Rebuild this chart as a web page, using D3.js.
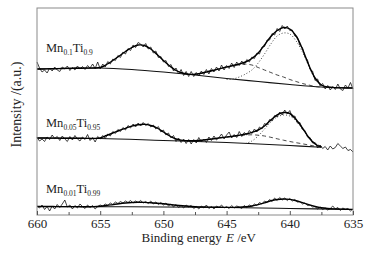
<!DOCTYPE html>
<html>
<head>
<meta charset="utf-8">
<script src="https://cdn.jsdelivr.net/npm/d3@7"></script>
<style>
  body { margin: 0; background: #fff; }
  svg text, svg tspan { font-family: "Liberation Serif", "Times New Roman", Times, "DejaVu Serif", serif !important; }
</style>
</head>
<body>
<div id="chart"></div>
<script>
// x grids (binding energy, eV)
const energyRaw = d3.range(126).map(i => +(660 - i * 0.2).toFixed(1));
const energyFit = d3.range(51).map(i => 660 - i * 0.5);
const xTicks = [660, 655, 650, 645, 640, 635];

// sample names: [element, sub, element, sub]
const sampleNames = [
    ["Mn", "0.1", "Ti", "0.9"],
    ["Mn", "0.05", "Ti", "0.95"],
    ["Mn", "0.01", "Ti", "0.99"]
];

// ---- Mn0.1Ti0.9 (top) ----
const topRaw = [153, 147, 143, 145, 142, 147, 144, 148, 145, 143.5, 148, 146, 149, 144.5, 147.5, 145, 149, 146, 148.5, 145.5,
    149.5, 147, 151, 146.5, 153, 146, 151, 148, 153.5, 151, 156, 154.5, 159.5, 157.5, 163, 161, 166.5, 164.5, 170, 167.5,
    172.5, 171, 168, 171.5, 166, 168, 162, 164, 157.5, 158.5, 153, 154.5, 148.5, 150.5, 144, 147, 141, 145.5, 139.5, 143.5,
    138.5, 143.5, 138.5, 142.5, 139, 144, 140.5, 145.5, 141, 146.5, 143, 148, 144, 150, 145, 149.5, 146.5, 152, 147.5, 153,
    149.5, 154, 150.5, 155.5, 153, 158, 156.5, 162, 161, 168, 168.5, 175, 175, 181.5, 180, 186.5, 183.5, 189.5, 186, 189,
    184.5, 185, 179, 178, 169.5, 167.5, 158, 155, 145.5, 144, 134.5, 136, 129, 131.5, 126, 129.5, 125, 128.5, 125.5, 131,
    126, 124.5, 130, 127, 132.5, 126];
const topFit = [146, 146, 146.2, 146.3, 146.5, 146.6, 146.7, 146.8, 146.9, 147, 147.5, 150.5, 154.5, 159, 163.5, 167.5, 170,
    169.5, 166, 160.5, 154.5, 149, 144.5, 142, 140.8, 140.7, 141.8, 143.2, 144.8, 146.4, 148, 149.5, 151, 153, 156.5, 162,
    170, 178.5, 184.5, 187.5, 186, 179, 166, 150, 137, 130, 128, 127.4, 127.1, 127, 127];
const topBaseE = [660, 657.5, 655, 652.5, 650, 647.5, 645, 642.5, 640, 637.5, 635];
const topBase = [146, 146.7, 147, 145.5, 143, 140, 136.5, 133.5, 130.5, 128, 127];
const topDashE = d3.range(21).map(i => 647 - i * 0.5);
const topDash = [142, 143.5, 145, 146.5, 148, 149.2, 150.3, 150.8, 150, 147.5, 145, 142.5, 140, 138, 135.5, 133.5, 131.5,
    130, 128.5, 127.8, 127.5];
const topDotE = d3.range(17).map(i => 645 - i * 0.5);
const topDot = [135.5, 136, 138, 141, 145, 152, 161, 171, 179, 182, 181, 174, 163, 149, 136, 129.5, 127.5];

// ---- Mn0.05Ti0.95 (middle) ----
const midRaw = [77.5, 74, 76, 73.5, 78, 75.5, 80, 76.5, 78.5, 74.5, 79, 76, 73.5, 78.5, 75, 79.5, 76, 74, 78, 75.5,
    80.5, 74.5, 77.5, 73, 78.5, 76, 79.5, 76.5, 81, 79, 83.5, 81.5, 85.5, 83.5, 87.5, 85, 89.5, 87, 91, 88,
    92, 89, 92.5, 89.5, 91.5, 88, 90, 86, 88.5, 83, 85, 80, 82, 77, 79.5, 73.5, 77, 72.5, 76, 71.5,
    75.5, 71, 75.5, 72, 77.5, 73, 76, 72.5, 78, 74.5, 79, 75, 77.5, 81, 76, 80, 83, 77, 80.5, 77.5,
    83.5, 78.5, 82.5, 80, 84.5, 81.5, 86, 83, 88, 86, 91.5, 90, 95.5, 94, 99.5, 98, 103, 100, 105, 101,
    104.5, 98, 99, 92, 92.5, 85.5, 84.5, 78, 77.5, 72, 72.5, 67, 70, 66.5, 68.5, 65, 69, 66, 67.5, 71.5,
    69, 66.5, 68, 64.5, 65.5, 63];
const midFit = [77, 77, 76.9, 76.9, 76.8, 76.8, 76.7, 76.7, 76.6, 76.6, 77, 79.5, 82, 84.5, 86.7, 88.8, 90.2, 90.7, 89.5, 87,
    83, 79, 76, 74.6, 74.2, 74.3, 74.8, 75.5, 76.3, 77.2, 78, 78.8, 79.8, 81, 82.7, 85, 89, 95, 100.2, 102.5,
    101.5, 95.5, 87, 77.5, 71, 68];
const midBaseE = [660, 655, 650, 645, 640, 637.5];
const midBase = [77, 76.5, 74.5, 72.5, 69.5, 67.7];
const midDashE = d3.range(17).map(i => 645.5 - i * 0.5);
const midDash = [77.2, 78, 78.8, 79.5, 80, 80.2, 79.8, 79, 77.7, 76.2, 74.8, 73.5, 72.3, 71.2, 70, 68.8, 67.8];
const midDotE = d3.range(13).map(i => 643.5 - i * 0.5);
const midDot = [71.5, 74, 79, 86, 93, 98, 100, 99, 94, 86, 78, 72, 68.5];

// ---- Mn0.01Ti0.99 (bottom) ----
const lowRaw = [9, 7, 10, 5.5, 8.5, 4, 9, 6, 10.5, 7.5, 11, 15, 8, 10, 6, 9.5, 7, 11, 8.5, 6.5,
    10, 7.5, 9.5, 6, 8.5, 10, 9, 11, 9.5, 12, 10.5, 13, 11.5, 13.5, 12, 14, 12.5, 14.5, 12, 14,
    12.5, 14.5, 12, 13.5, 11.5, 14, 11, 13, 10.5, 12.5, 10, 12, 9, 11, 8, 10.5, 7.5, 9.5, 7, 10,
    8, 9.5, 6.5, 8.5, 6, 9, 7, 10, 6.5, 8.5, 6, 9, 7.5, 10, 7, 8.5, 6.5, 9.5, 7, 9,
    8, 6.5, 9.5, 7.5, 10, 8.5, 11, 9.5, 12.5, 11, 14, 12.5, 15.5, 13.5, 17, 14.5, 17.5, 15, 17, 14.5,
    16.5, 14, 15.5, 13, 13.5, 11, 12, 9.5, 10, 8, 8.5, 6, 8, 5.5, 7, 5, 6.5, 9, 6, 7.5,
    4.5, 7, 5.5, 6.5, 4, 6];
const lowFit = [8.5, 8.5, 8.5, 8.4, 8.4, 8.4, 8.4, 8.3, 8.3, 8.4, 8.8, 9.5, 10.4, 11.3, 12, 12.5, 12.7, 12.6, 12.3, 11.8,
    11.2, 10.5, 9.8, 9.2, 8.7, 8.3, 8, 7.9, 7.8, 7.7, 7.6, 7.6, 7.7, 8.2, 9, 10.4, 12.2, 14.2, 15.5, 16,
    15.6, 14.3, 12.4, 10.4, 8.5, 7.2, 6.5, 6.1, 5.9, 5.7, 5.6];
const lowBaseE = [660, 655, 650, 645, 640, 635];
const lowBase = [8.5, 8.3, 8, 7.5, 6.5, 5.5];

const width = 370, height = 255;
const margin = { top: 8, right: 17, bottom: 40, left: 37 };

const svg = d3.select("#chart").append("svg")
    .attr("width", width)
    .attr("height", height);

const x = d3.scaleLinear()
    .domain([660, 635])
    .range([margin.left, width - margin.right]);

const y = d3.scaleLinear()
    .domain([0, 207])
    .range([height - margin.bottom, margin.top]);

const smooth = d3.line().x(d => x(d[0])).y(d => y(d[1])).curve(d3.curveCatmullRom);
const jagged = d3.line().x(d => x(d[0])).y(d => y(d[1]));

function draw(E, vals, gen, stroke, w, dash) {
    svg.append("path")
        .datum(vals.map((v, i) => [E[i], v]))
        .attr("d", gen)
        .attr("fill", "none")
        .attr("stroke", stroke)
        .attr("stroke-width", w)
        .attr("stroke-dasharray", dash || null)
        .attr("stroke-linejoin", "round");
}

// components and backgrounds
draw(topBaseE, topBase, smooth, "#111", 1.1);
draw(midBaseE, midBase, smooth, "#111", 1.1);
draw(lowBaseE, lowBase, smooth, "#111", 1.1);
draw(topDashE, topDash, smooth, "#333", 0.9, "4,3");
draw(midDashE, midDash, smooth, "#333", 0.9, "4,3");
draw(topDotE, topDot, smooth, "#333", 0.9, "1,2");
draw(midDotE, midDot, smooth, "#333", 0.9, "1,2");

// raw spectra
draw(energyRaw, topRaw, jagged, "#111", 0.8);
draw(energyRaw, midRaw, jagged, "#111", 0.8);
draw(energyRaw, lowRaw, jagged, "#111", 0.8);

// fitted envelopes
draw(energyFit, topFit, smooth, "#000", 1.4);
draw(energyFit.slice(0, midFit.length), midFit, smooth, "#000", 1.4);
draw(energyFit, lowFit, smooth, "#000", 1.4);

// frame
svg.append("rect")
    .attr("x", margin.left)
    .attr("y", margin.top)
    .attr("width", width - margin.left - margin.right)
    .attr("height", height - margin.top - margin.bottom)
    .attr("fill", "none")
    .attr("stroke", "#8a8a8a")
    .attr("stroke-width", 1);

// minor ticks
svg.append("g")
    .attr("transform", `translate(0,${height - margin.bottom})`)
    .call(d3.axisBottom(x).tickValues(d3.range(657.5, 635, -5)).tickSize(-3).tickFormat(""))
    .call(g => g.select(".domain").remove())
    .selectAll("line").attr("stroke", "#555");

const xAxis = svg.append("g")
    .attr("transform", `translate(0,${height - margin.bottom})`)
    .call(d3.axisBottom(x).tickValues(xTicks).tickSizeInner(-4).tickSizeOuter(0).tickPadding(4));
xAxis.attr("font-size", 13);
xAxis.select(".domain").remove();
xAxis.selectAll("line").attr("stroke", "#555");
xAxis.selectAll("text").attr("fill", "#222");

// axis titles
const xt = svg.append("text")
    .attr("x", 141.5)
    .attr("y", 242)
    .attr("font-size", 13)
    .attr("fill", "#222");
xt.append("tspan").text("Binding energy");
xt.append("tspan").attr("x", 226).attr("font-style", "italic").text("E");
xt.append("tspan").text(" /eV");

svg.append("text")
    .attr("transform", "translate(21,104.5) rotate(-90)")
    .attr("text-anchor", "middle")
    .attr("font-size", 14)
    .attr("fill", "#222")
    .text("Intensity /(a.u.)");

// sample labels
const labelY = [52, 127, 192.5];
sampleNames.forEach((parts, k) => {
    const t = svg.append("text")
        .attr("x", 46)
        .attr("y", labelY[k])
        .attr("font-size", 12.5)
        .attr("fill", "#222");
    parts.forEach((p, j) => {
        const sub = j % 2 === 1;
        t.append("tspan")
            .attr("font-size", sub ? 7.5 : 12.5)
            .attr("dy", sub ? 3 : (j === 0 ? 0 : -3))
            .text(p);
    });
});
</script>
</body>
</html>
